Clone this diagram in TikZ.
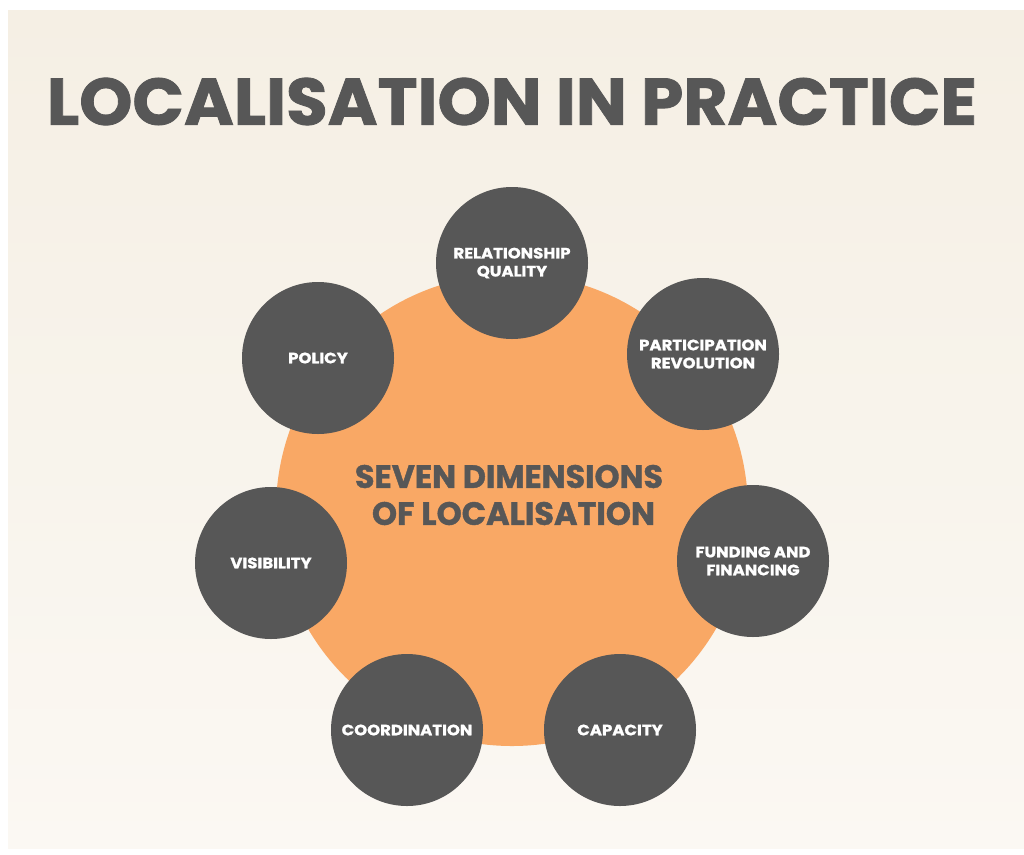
\documentclass[tikz,border=0pt]{standalone}
\usepackage{fontspec}
\setmainfont{Poppins}[BoldFeatures={FakeBold=1.2}]
\newfontfamily\widefont{Poppins}[BoldFeatures={FakeBold=1.2, FakeStretch=1.1}]
\usepackage{graphicx}
\definecolor{bgtop}{RGB}{245,239,228}
\definecolor{bgbot}{RGB}{251,248,243}
\definecolor{orng}{RGB}{249,168,101}
\definecolor{dgray}{RGB}{87,87,87}
\tikzset{
  dimcircle/.style={circle, fill=dgray, minimum size=152pt, inner sep=0pt, text=white, align=center,
    font=\widefont\fontsize{15}{18}\selectfont\bfseries},
  hub/.style={circle, fill=orng, minimum size=472pt, inner sep=0pt},
  bigtext/.style={inner sep=0pt, text=dgray, font=\bfseries}
}
\begin{document}
\begin{tikzpicture}[x=1pt,y=-1pt]
\useasboundingbox (0,0) rectangle (1024,854);
\fill[white] (0,0) rectangle (1024,854);
\shade[top color=bgtop, bottom color=bgbot] (8,10) rectangle (1024,848);
\node[bigtext] (title) at (512,101.5) {\resizebox{930pt}{47pt}{LOCALISATION IN PRACTICE}};
\node[hub] (hub) at (512,510) {};
\node[bigtext] (c1) at (509,476.5) {\resizebox{308pt}{23pt}{SEVEN DIMENSIONS}};
\node[bigtext] (c2) at (513.5,513.5) {\resizebox{283pt}{23pt}{OF LOCALISATION}};
\node[dimcircle] (rq) at (512,263) {RELATIONSHIP\\QUALITY};
\node[dimcircle] (pr) at (703,354) {PARTICIPATION\\REVOLUTION};
\node[dimcircle] (ff) at (753,561) {FUNDING AND\\FINANCING};
\node[dimcircle] (cap) at (620,730) {CAPACITY};
\node[dimcircle] (coord) at (407,730) {COORDINATION};
\node[dimcircle] (vis) at (271,563) {VISIBILITY};
\node[dimcircle] (pol) at (318,358) {POLICY};
\end{tikzpicture}
\end{document}
